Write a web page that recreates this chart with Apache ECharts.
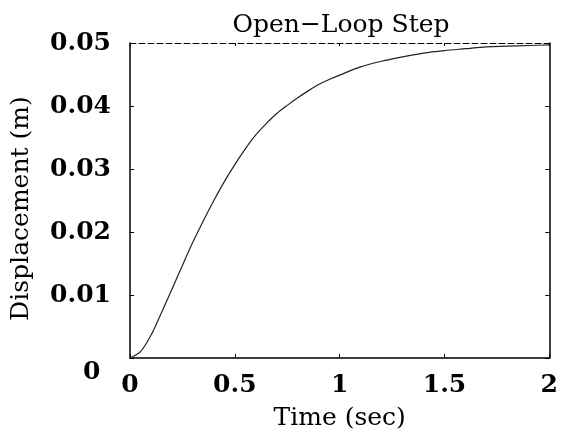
<!DOCTYPE html>
<html>
<head>
<meta charset="utf-8">
<script src="https://cdn.jsdelivr.net/npm/echarts@6/dist/echarts.min.js"></script>
<style>html,body{margin:0;padding:0;background:#fff}#c{width:561px;height:436px}</style>
</head>
<body>
<div id="c"></div>
<script>
const timeSec = [0, 0.05, 0.1, 0.15, 0.2, 0.25, 0.3, 0.35, 0.4, 0.45, 0.5, 0.55, 0.6, 0.65, 0.7, 0.75, 0.8, 0.85, 0.9, 0.95, 1.0, 1.1, 1.2, 1.3, 1.4, 1.5, 1.6, 1.7, 1.8, 1.9, 2.0];
const displacement = [0, 0.0010, 0.0036, 0.0072, 0.0109, 0.0147, 0.0184, 0.0218, 0.0250, 0.0280, 0.0307, 0.0332, 0.0354, 0.0372, 0.0388, 0.0401, 0.0413, 0.0424, 0.0434, 0.0442, 0.0449, 0.0462, 0.0471, 0.0478, 0.0484, 0.0488, 0.0491, 0.0494, 0.0495, 0.0496, 0.0497];
const xTicks = [0, 0.5, 1, 1.5, 2];
const yTicks = [0, 0.01, 0.02, 0.03, 0.04, 0.05];

const serif = '"DejaVu Serif", serif';
const chart = echarts.init(document.getElementById('c'), null, {renderer: 'canvas'});
chart.setOption({
  animation: false,
  backgroundColor: '#fff',
  title: {
    text: 'Open\u2212Loop Step',
    left: 336, textAlign: 'center', top: 8,
    textStyle: {fontFamily: serif, fontSize: 25, fontWeight: 'normal', color: '#000'}
  },
  grid: {left: 130, top: 43, right: 8, bottom: 77},
  xAxis: [{
    type: 'value', min: xTicks[0], max: xTicks[xTicks.length - 1], interval: 0.5, position: 'bottom',
    name: 'Time (sec)', nameLocation: 'middle', nameGap: 48,
    nameTextStyle: {fontFamily: serif, fontSize: 25, fontWeight: 'normal', color: '#000'},
    axisLine: {show: true, onZero: false, lineStyle: {color: '#000', width: 1.5}},
    axisTick: {show: true, inside: true, length: 4, lineStyle: {color: '#000'}},
    axisLabel: {fontFamily: serif, fontSize: 25, fontWeight: 'bold', color: '#000', margin: 15,
      formatter: v => String(v)},
    splitLine: {show: false}
  }, {
    type: 'value', min: xTicks[0], max: xTicks[xTicks.length - 1], interval: 0.5, position: 'top',
    axisLine: {show: true, onZero: false, lineStyle: {color: '#000', width: 1, type: [6, 3]}},
    axisTick: {show: true, inside: true, length: 3, lineStyle: {color: '#000'}},
    axisLabel: {show: false}, splitLine: {show: false}
  }],
  yAxis: [{
    type: 'value', min: yTicks[0], max: yTicks[yTicks.length - 1], interval: 0.01, position: 'left',
    name: 'Displacement (m)', nameLocation: 'middle', nameGap: 96, nameRotate: 90,
    nameTextStyle: {fontFamily: serif, fontSize: 25, fontWeight: 'normal', color: '#000', padding: [0, 16, 0, 0]},
    axisLine: {show: true, onZero: false, lineStyle: {color: '#000', width: 1.5}},
    axisTick: {show: true, inside: true, length: 4, lineStyle: {color: '#000'}},
    axisLabel: {fontFamily: serif, fontSize: 25, fontWeight: 'bold', color: '#000', margin: 19,
      formatter: v => (v === 0 ? '' : v.toFixed(2))},
    splitLine: {show: false}
  }, {
    type: 'value', min: yTicks[0], max: yTicks[yTicks.length - 1], interval: 0.01, position: 'right',
    axisLine: {show: true, onZero: false, lineStyle: {color: '#000', width: 1.5}},
    axisTick: {show: true, inside: true, length: 4, lineStyle: {color: '#000'}},
    axisLabel: {show: false}, splitLine: {show: false}
  }],
  graphic: [{
    type: 'text', left: 83, top: 360,
    style: {text: String(yTicks[0]), font: 'bold 25px ' + serif, fill: '#000'}
  }],
  series: [{
    type: 'line', xAxisIndex: 0, yAxisIndex: 0,
    data: timeSec.map((t, i) => [t, displacement[i]]),
    showSymbol: false, smooth: 0.3,
    lineStyle: {color: '#222', width: 1.2}
  }]
});
</script>
</body>
</html>
